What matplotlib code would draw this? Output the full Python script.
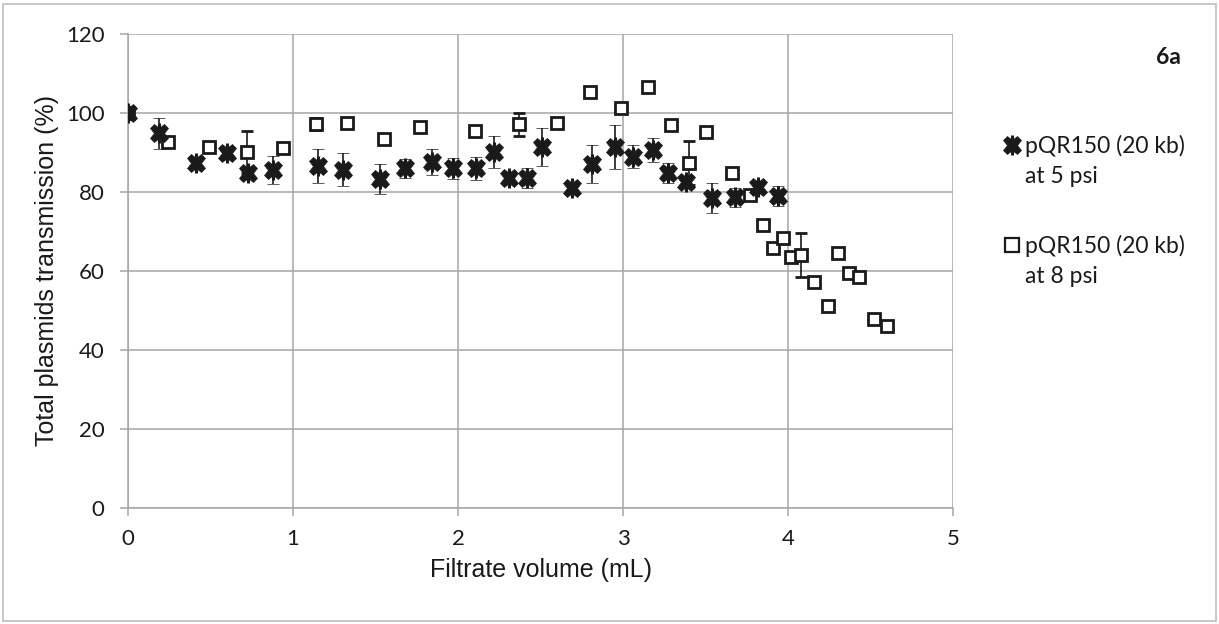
import matplotlib
matplotlib.use("Agg")
import matplotlib.pyplot as plt
from matplotlib.lines import Line2D
from matplotlib.patches import Rectangle

# filtrate volume (mL), transmission (%), error (%)
x_5psi = [0, 0.19, 0.41, 0.60, 0.73, 0.88, 1.15, 1.30, 1.53, 1.68, 1.84, 1.97, 2.11, 2.22,
          2.31, 2.42, 2.51, 2.69, 2.81, 2.95, 3.06, 3.18, 3.27, 3.38, 3.54, 3.68, 3.82, 3.94]
y_5psi = [100, 94.9, 87.3, 89.9, 84.8, 85.6, 86.6, 85.6, 83.3, 86.0, 87.6, 86.0, 86.0, 90.1,
          83.5, 83.5, 91.4, 81.0, 87.0, 91.4, 88.9, 90.6, 84.8, 82.5, 78.5, 78.7, 81.3, 79.0]
e_5psi = [0.5, 3.9, 0.5, 0.5, 1.0, 3.5, 4.2, 4.2, 3.8, 2.4, 3.3, 2.7, 2.9, 4.0,
          0.5, 2.5, 4.7, 0.5, 4.8, 5.6, 2.9, 3.0, 2.5, 1.0, 3.9, 2.4, 1.0, 2.5]

x_8psi = [0, 0.24, 0.49, 0.72, 0.94, 1.14, 1.33, 1.55, 1.77, 2.10, 2.37, 2.60, 2.80, 2.99,
          3.15, 3.29, 3.40, 3.50, 3.66, 3.77, 3.85, 3.91, 3.97, 4.02, 4.08, 4.16, 4.24,
          4.30, 4.37, 4.43, 4.52, 4.60]
y_8psi = [100, 92.7, 91.4, 90.1, 91.1, 97.2, 97.5, 93.4, 96.5, 95.4, 97.2, 97.5, 105.3, 101.3,
          106.6, 97.0, 87.3, 95.2, 84.8, 79.2, 71.6, 65.8, 68.4, 63.5, 64.0, 57.2, 51.1,
          64.6, 59.5, 58.5, 47.8, 46.1]
e_8psi = [0.5, 1, 1, 5.3, 1, 1.5, 1, 1, 1, 1, 2.9, 1, 1, 1,
          1, 1, 5.5, 1, 1, 1, 1, 1, 1, 1, 5.5, 1, 1,
          1, 1, 1, 1, 1]

labels = ["pQR150 (20 kb)\nat 5 psi", "pQR150 (20 kb)\nat 8 psi"]
panel = "6a"

W, H = 1219, 624
fig = plt.figure(figsize=(W / 100, H / 100), dpi=100)
ax = fig.add_axes([128 / W, 1 - 508 / H, (953 - 128) / W, (508 - 34) / H])

grid_c = "#A6A6A6"
ink = "#1a1a1a"

ax.errorbar(x_8psi, y_8psi, yerr=e_8psi, fmt="s", ms=9, mfc="white", mec=ink, mew=2.0,
            ecolor=ink, elinewidth=1.2, capsize=4.5, capthick=1.2, zorder=3)
ax.errorbar(x_5psi, y_5psi, yerr=e_5psi, fmt="X", ms=13, mfc=ink, mec=ink, mew=0.5,
            ecolor=ink, elinewidth=1.2, capsize=4.5, capthick=1.2, zorder=4)
# the star marker has a short vertical stroke through the cross
ax.plot(x_5psi, y_5psi, ls="none", marker="|", ms=15, mew=2.2, color=ink, zorder=4)

ax.set_xlim(0, 5)
ax.set_ylim(0, 120)
ax.set_xticks(range(0, 6))
ax.set_yticks(range(0, 121, 20))
ax.grid(True, color=grid_c, lw=1.1)
ax.set_axisbelow(True)
for s in ["top", "right"]:
    ax.spines[s].set_visible(False)
for s in ["left", "bottom"]:
    ax.spines[s].set_color(grid_c)
    ax.spines[s].set_linewidth(1.1)
ax.tick_params(direction="out", length=5.8, width=1.1, color=grid_c)
ax.tick_params(axis="y", pad=11)
ax.tick_params(axis="x", pad=9)
for lab in ax.get_xticklabels() + ax.get_yticklabels():
    lab.set_fontfamily("Lato")
    lab.set_fontsize(16)
    lab.set_color(ink)

ax.set_xlabel("Filtrate volume (mL)", fontsize=18, family="Liberation Sans", color=ink, labelpad=7)
ax.set_ylabel("Total plasmids transmission (%)", fontsize=18, family="Liberation Sans", color=ink, labelpad=5)

# panel label
fig.text(1168 / W, 1 - 57 / H, panel, fontsize=16.5, fontweight="bold", family="Lato",
         ha="center", va="center", color=ink)

# legend drawn by hand
leg_marks = [[dict(marker="X", ms=13, mfc=ink, mec=ink, mew=0.5),
              dict(marker="|", ms=15, mew=2.2, color=ink)],
             [dict(marker="s", ms=10, mfc="white", mec=ink, mew=1.6)]]
for i, (lbl, mks) in enumerate(zip(labels, leg_marks)):
    base = 153 + i * 100
    for mk in mks:
        fig.add_artist(Line2D([1012 / W], [1 - (base - 8) / H], transform=fig.transFigure,
                              ls="none", **mk))
    for j, line in enumerate(lbl.split("\n")):
        fig.text(1025 / W, 1 - (base + 30 * j) / H, line, fontsize=16.5, family="Lato",
                 ha="left", va="baseline", color=ink)

# chart border
fig.add_artist(Rectangle((3 / W, 3 / H), 1 - 6 / W, 1 - 7 / H, transform=fig.transFigure,
                         fill=False, ec="#BFBFBF", lw=1.2))

fig.savefig("out.png", dpi=100)
